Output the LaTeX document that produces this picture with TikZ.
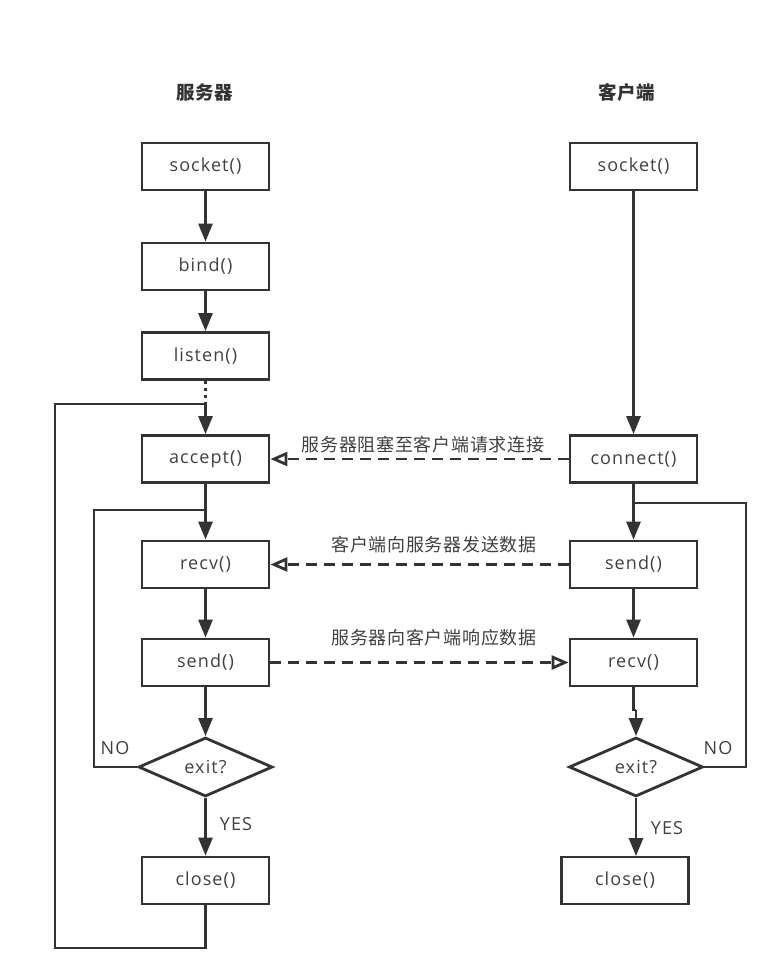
\documentclass[tikz,border=0pt]{standalone}
\usepackage{fontspec}
\setmainfont{Open Sans}[LetterSpace=6]
\newfontfamily\cjk{Noto Sans CJK SC}[LetterSpace=4]
\usetikzlibrary{arrows.meta,shapes.geometric}
\definecolor{ink}{HTML}{333333}
\definecolor{txt}{HTML}{404040}
\tikzset{
  x=1pt,y=-1pt,
  box/.style={draw=ink,line width=2.8pt,minimum width=127pt,minimum height=47pt,inner sep=0pt,font=\fontsize{18}{20}\selectfont,text=txt},
  dec/.style={draw=ink,line width=2.8pt,diamond,aspect=2.3,minimum width=134pt,minimum height=59pt,inner sep=0pt,font=\fontsize{18}{20}\selectfont,text=txt},
  flow/.style={draw=ink,line width=2.8pt},
  arr/.style={flow,-{Triangle[length=18pt,width=14pt]}},
  msg/.style={draw=ink,line width=2.8pt,dash pattern=on 11pt off 7pt,-{Triangle[open,length=17pt,width=14pt,line width=2.8pt]}},
  lab/.style={font=\cjk\fontsize{18}{20}\selectfont,text=txt},
  tag/.style={font=\fontsize{18}{20}\selectfont,text=txt},
  ttl/.style={font=\cjk\bfseries\fontsize{18.5}{20}\selectfont,text=ink}
}
\begin{document}
\begin{tikzpicture}
\useasboundingbox (0,0) rectangle (766,975);
\node[ttl] (t1) at (205,92) {服务器};
\node[ttl] (t2) at (627,92) {客户端};
% server
\node[box] (ssock) at (205.5,166.5) {socket()};
\node[box] (sbind) at (205.5,266.5) {bind()};
\node[box] (slist) at (205.5,356) {listen()};
\node[box] (sacc) at (205.5,459) {accept()};
\node[box] (srecv) at (205.5,564.5) {recv()};
\node[box] (ssend) at (205.5,662.5) {send()};
\node[dec] (sexit) at (205.5,767) {exit?};
\node[box] (sclose) at (205.5,880.5) {close()};
% client
\node[box] (csock) at (633.5,166.5) {socket()};
\node[box] (cconn) at (633.5,459) {connect()};
\node[box] (csend) at (633.5,564.5) {send()};
\node[box] (crecv) at (633.5,662.5) {recv()};
\node[dec] (cexit) at (636,767) {exit?};
\node[box] (cclose) at (625,880.5) {close()};
% coordinates
\coordinate (j1) at (205.5,404);
\coordinate (c1) at (55,404);
\coordinate (c2) at (55,948);
\coordinate (j2) at (205.5,510);
\coordinate (c3) at (94,510);
\coordinate (j3) at (633.5,503);
\coordinate (c4) at (746,503);
\coordinate (k1) at (633.5,710);
\coordinate (k2) at (636,710);
\coordinate (k3) at (636,856);
% server flow
\draw[arr] (ssock) -- (sbind);
\draw[arr] (sbind) -- (slist);
\draw[flow,dash pattern=on 3pt off 4pt] (slist.south) -- (j1);
\draw[arr] (j1) -- (sacc);
\draw[flow] (sclose.south) |- (c2) -- (c1) -- (j1);
\draw[arr] (sacc) -- (srecv);
\draw[flow] (sexit.west) -| (c3) -- (j2);
\draw[arr] (srecv) -- (ssend);
\draw[arr] (ssend) -- (sexit);
\draw[arr] (sexit) -- (sclose);
% client flow
\draw[arr] (csock) -- (cconn);
\draw[arr] (cconn) -- (csend);
\draw[flow] (cexit.east) -| (c4) -- (j3);
\draw[arr] (csend) -- (crecv);
\draw[flow] (crecv.south) -- (k1) -- (k2);
\draw[arr] (k2) -- (cexit.north);
\draw[arr] (cexit.south) -- (k3);
% messages
\draw[msg] (cconn.west) -- (sacc.east);
\draw[msg] (csend.west) -- (srecv.east);
\draw[msg] (ssend.east) -- (crecv.west);
\node[lab] (l1) at (423,445) {服务器阻塞至客户端请求连接};
\node[lab] (l2) at (434,545) {客户端向服务器发送数据};
\node[lab] (l3) at (434,638) {服务器向客户端响应数据};
% tags
\node[tag] (n1) at (115,748) {NO};
\node[tag] (n2) at (718,748) {NO};
\node[tag] (y1) at (236,824) {YES};
\node[tag] (y2) at (667,828) {YES};
\end{tikzpicture}
\end{document}
